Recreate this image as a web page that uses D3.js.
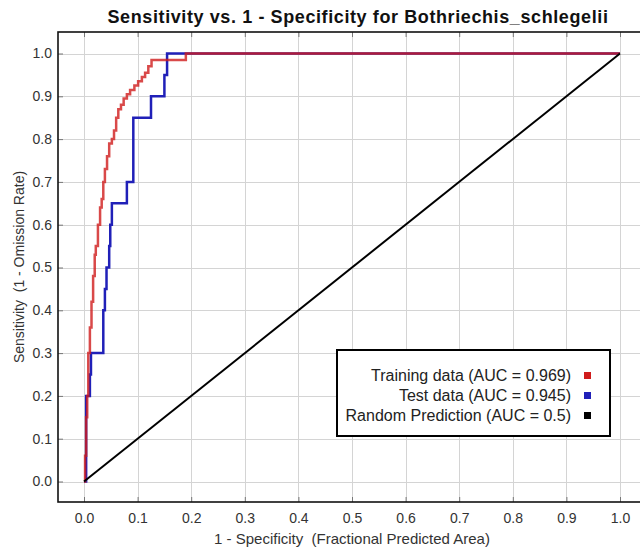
<!DOCTYPE html>
<html>
<head>
<meta charset="utf-8">
<script src="https://cdn.jsdelivr.net/npm/d3@7"></script>
<style>
  html, body { margin: 0; padding: 0; background: #fff; }
  svg { display: block; font-family: "Liberation Sans", Arial, sans-serif; }
  .pre { white-space: pre; }
</style>
</head>
<body>
<svg id="chart" width="640" height="550"></svg>
<script>
// ---- data ----
const titleText = "Sensitivity vs. 1 - Specificity for Bothriechis_schlegelii";
const xTitle = "1 - Specificity  (Fractional Predicted Area)";
const yTitle = "Sensitivity  (1 - Omission Rate)";
const tickValues = [0, 0.1, 0.2, 0.3, 0.4, 0.5, 0.6, 0.7, 0.8, 0.9, 1.0];

// Training ROC (corner points, step-after)
const trainFPR = [0, 0.002, 0.004, 0.006, 0.008, 0.011, 0.014, 0.017, 0.020, 0.022, 0.026, 0.030, 0.033, 0.036, 0.039, 0.043, 0.047, 0.052, 0.056, 0.060, 0.064, 0.069, 0.074, 0.080, 0.086, 0.094, 0.101, 0.108, 0.114, 0.120, 0.126, 0.190, 1.0];
const trainTPR = [0, 0.06, 0.15, 0.20, 0.30, 0.36, 0.42, 0.48, 0.53, 0.55, 0.60, 0.64, 0.66, 0.70, 0.73, 0.76, 0.79, 0.80, 0.82, 0.85, 0.87, 0.88, 0.895, 0.905, 0.915, 0.925, 0.935, 0.945, 0.955, 0.97, 0.985, 1.0, 1.0];

// Test ROC (corner points, step-after)
const testFPR = [0, 0.004, 0.011, 0.013, 0.036, 0.036, 0.039, 0.042, 0.047, 0.049, 0.052, 0.080, 0.092, 0.125, 0.150, 0.155, 1.0];
const testTPR = [0, 0.20, 0.25, 0.30, 0.35, 0.40, 0.45, 0.50, 0.55, 0.60, 0.65, 0.70, 0.85, 0.90, 0.95, 1.0, 1.0];

// Random prediction
const randFPR = [0, 1];
const randTPR = [0, 1];

const legendLabels = ["Training data (AUC = 0.969)", "Test data (AUC = 0.945)", "Random Prediction (AUC = 0.5)"];
const seriesColors = ["#d01c1c", "#2020b8", "#000000"];

// ---- layout ----
const frame = { left: 58, right: 646, top: 32, bottom: 502 };
const svg = d3.select("#chart");

const x = d3.scaleLinear().domain([0, 1]).range([84, 620]);
const y = d3.scaleLinear().domain([0, 1]).range([481.5, 53.5]);

// gridlines
const grid = svg.append("g").attr("stroke", "#d4d4d4").attr("stroke-width", 1);
grid.selectAll("line.v").data(tickValues).join("line")
  .attr("x1", d => Math.round(x(d)) + 0.5).attr("x2", d => Math.round(x(d)) + 0.5)
  .attr("y1", frame.top).attr("y2", frame.bottom);
grid.selectAll("line.h").data(tickValues).join("line")
  .attr("y1", d => Math.round(y(d)) + 0.5).attr("y2", d => Math.round(y(d)) + 0.5)
  .attr("x1", frame.left).attr("x2", frame.right);

// axes
const fmt = d3.format(".1f");
const axL = svg.append("g").attr("transform", `translate(${frame.left},0)`)
  .call(d3.axisLeft(y).tickValues(tickValues).tickFormat(fmt).tickSizeInner(-5).tickSizeOuter(0).tickPadding(6));
const axB = svg.append("g").attr("transform", `translate(0,${frame.bottom})`)
  .call(d3.axisBottom(x).tickValues(tickValues).tickFormat(fmt).tickSizeInner(-5).tickSizeOuter(0).tickPadding(11));
const axT = svg.append("g").attr("transform", `translate(0,${frame.top})`)
  .call(d3.axisTop(x).tickValues(tickValues).tickFormat("").tickSizeInner(-5).tickSizeOuter(0));
[axL, axB, axT].forEach(a => {
  a.select(".domain").remove();
  a.selectAll(".tick line").attr("stroke", "#777");
  a.selectAll(".tick text").attr("fill", "#333").style("font-size", "14px")
    .style("font-family", "'Liberation Sans', Arial, sans-serif");
});

// frame
svg.append("rect")
  .attr("x", frame.left).attr("y", frame.top)
  .attr("width", frame.right - frame.left).attr("height", frame.bottom - frame.top)
  .attr("fill", "none").attr("stroke", "#111").attr("stroke-width", 1.6);

// curves
const stepLine = d3.line().x(d => x(d[0])).y(d => y(d[1])).curve(d3.curveStepAfter);
const straight = d3.line().x(d => x(d[0])).y(d => y(d[1]));

svg.append("path")
  .attr("d", stepLine(d3.zip(testFPR, testTPR)))
  .attr("fill", "none").attr("stroke", seriesColors[1]).attr("stroke-width", 2.5);
svg.append("path")
  .attr("d", stepLine(d3.zip(trainFPR, trainTPR)))
  .attr("fill", "none").attr("stroke", seriesColors[0]).attr("stroke-width", 2.5)
  .attr("stroke-opacity", 0.8);
svg.append("path")
  .attr("d", straight(d3.zip(randFPR, randTPR)))
  .attr("fill", "none").attr("stroke", seriesColors[2]).attr("stroke-width", 2);

// title
svg.append("text")
  .attr("x", 358).attr("y", 23)
  .attr("text-anchor", "middle")
  .style("font-size", "18px").style("font-weight", "bold").style("letter-spacing", "0.6px")
  .attr("fill", "#111")
  .text(titleText);

// axis titles
svg.append("text").attr("class", "pre")
  .attr("x", (frame.left + frame.right) / 2).attr("y", 544)
  .attr("text-anchor", "middle").style("font-size", "15px").attr("fill", "#333")
  .text(xTitle);
svg.append("text").attr("class", "pre")
  .attr("transform", `translate(24,${(frame.top + frame.bottom) / 2}) rotate(-90)`)
  .attr("text-anchor", "middle").style("font-size", "14px").attr("fill", "#333")
  .text(yTitle);

// legend
const lg = svg.append("g");
lg.append("rect").attr("x", 337).attr("y", 350).attr("width", 273).attr("height", 86)
  .attr("fill", "#fff").attr("stroke", "#000").attr("stroke-width", 2);
legendLabels.forEach((lab, i) => {
  lg.append("text").attr("x", 571).attr("y", 381 + i * 20)
    .attr("text-anchor", "end").style("font-size", "16px").attr("fill", "#222")
    .text(lab);
  lg.append("rect").attr("x", 584).attr("y", 372 + i * 20).attr("width", 7).attr("height", 7)
    .attr("fill", seriesColors[i]);
});
</script>
</body>
</html>
